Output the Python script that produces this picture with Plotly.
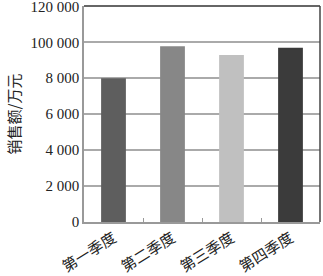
import plotly.graph_objects as go

categories = ["第一季度", "第二季度", "第三季度", "第四季度"]
sales = [80000, 97800, 92900, 97000]
bar_colors = ["#5e5e5e", "#878787", "#c0c0c0", "#3b3b3b"]
ytick_vals = [0, 20000, 40000, 60000, 80000, 100000, 120000]
ytick_text = ["0", "2 000", "4 000", "6 000", "8 000", "100 000", "120 000"]
y_title = "销售额/万元"

xpos = list(range(len(categories)))

fig = go.Figure(go.Bar(x=xpos, y=sales, marker=dict(color=bar_colors, line=dict(width=0)),
                       width=0.42))

fig.update_layout(
    width=323, height=276,
    margin=dict(l=84, r=3, t=6, b=54),
    paper_bgcolor="white", plot_bgcolor="white",
    showlegend=False,
    font=dict(family="Liberation Serif", color="#222"),
    shapes=[
        dict(type="line", xref="paper", yref="paper", x0=0, x1=1, y0=1, y1=1,
             line=dict(color="#333", width=1.5)),
        dict(type="line", xref="paper", yref="paper", x0=1, x1=1, y0=0, y1=1,
             line=dict(color="#444", width=1.5)),
    ],
)
fig.update_xaxes(
    range=[-0.5, 3.5], tickvals=xpos, ticktext=categories, tickangle=-32,
    tickfont=dict(family="Noto Sans CJK SC", size=15, color="#222"),
    showgrid=False, showline=True, linecolor="#999", linewidth=1.5,
    ticks="", zeroline=False, automargin=False,
    minor=dict(tickvals=[0.5, 1.5, 2.5], ticks="inside", ticklen=4, tickcolor="#999"),
)
fig.update_yaxes(
    range=[0, 120200], tickvals=ytick_vals, ticktext=ytick_text,
    tickfont=dict(family="Liberation Serif", size=15, color="#222"),
    showgrid=True, gridcolor="#aaa", gridwidth=1.5,
    showline=True, linecolor="#999", linewidth=1.5, zeroline=False, ticks="",
    ticklabeloverflow="allow", automargin=False,
    title=dict(text=y_title, font=dict(family="Noto Sans CJK SC", size=15, color="#222"), standoff=6),
)

fig.write_html("out.html")
